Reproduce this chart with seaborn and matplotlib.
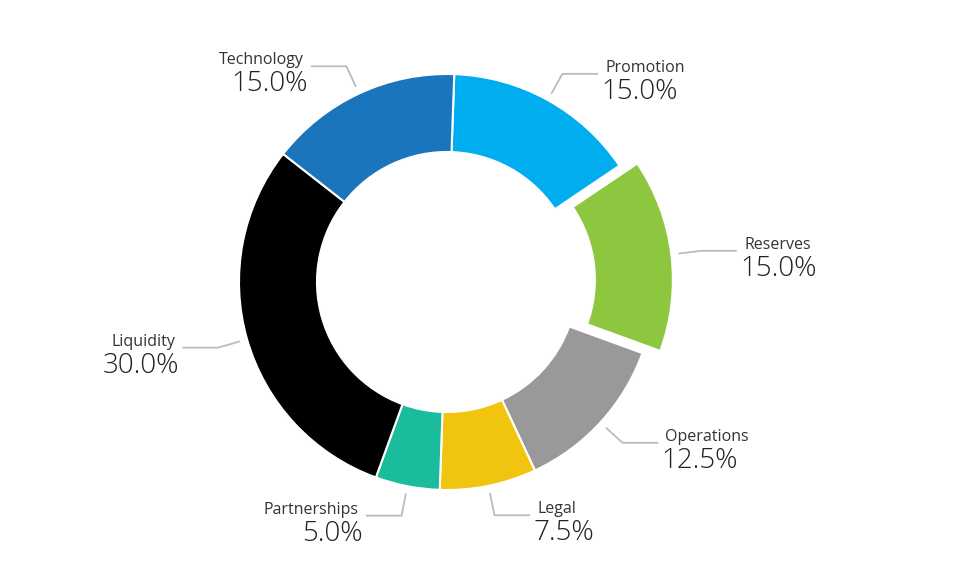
import matplotlib
matplotlib.use("Agg")
import matplotlib.pyplot as plt
import seaborn as sns
import numpy as np

categories = ["Promotion", "Reserves", "Operations", "Legal", "Partnerships", "Liquidity", "Technology"]
values = [15.0, 15.0, 12.5, 7.5, 5.0, 30.0, 15.0]
colors = ["#00adef", "#8dc63f", "#999999", "#f1c40f", "#1abc9c", "#000000", "#1b75bc"]
explode_flags = [0, 1, 0, 0, 0, 0, 0]

sns.set_theme(style="white")
fig = plt.figure(figsize=(9.57, 5.79), dpi=100)
ax = fig.add_axes([0, 0, 1, 1])

cx, cy, R, w = 447, 282, 208, 78
start = -88
explode = [e * 18 for e in explode_flags]
wedges, _ = ax.pie(values, colors=colors, startangle=start, counterclock=True,
                   center=(cx, cy), radius=R, explode=explode,
                   wedgeprops=dict(width=w, edgecolor="white", linewidth=1.5), frame=True)
ax.set_xlim(0, 957); ax.set_ylim(579, 0); ax.axis("off")

total = sum(values)
acc = 0
for cat, v, e in zip(categories, values, explode):
    a = np.deg2rad(start + (acc + v / 2) / total * 360)
    acc += v
    dx, dy = np.cos(a), np.sin(a)
    p1 = (cx + dx * (R + 8 + e), cy + dy * (R + 8 + e))
    p2 = (cx + dx * (R + 30 + e), cy + dy * (R + 30 + e))
    side = 1 if dx >= 0 else -1
    p3 = (p2[0] + side * 35, p2[1])
    ax.plot([p1[0], p2[0], p3[0]], [p1[1], p2[1], p3[1]], color="#bbbbbb", lw=1.3)
    tx = p3[0] + side * 8
    ha = "left" if side > 0 else "right"
    ax.text(tx, p3[1] + 2, cat, ha=ha, va="bottom", fontsize=11.5, color="#333333", family="Open Sans")
    ax.text(tx - side * 4, p3[1] + 4, f"{v:.1f}%", ha=ha, va="top", fontsize=20, color="#222222",
            family="Open Sans", fontweight="light")

fig.savefig("out.png", dpi=100, facecolor="white")
